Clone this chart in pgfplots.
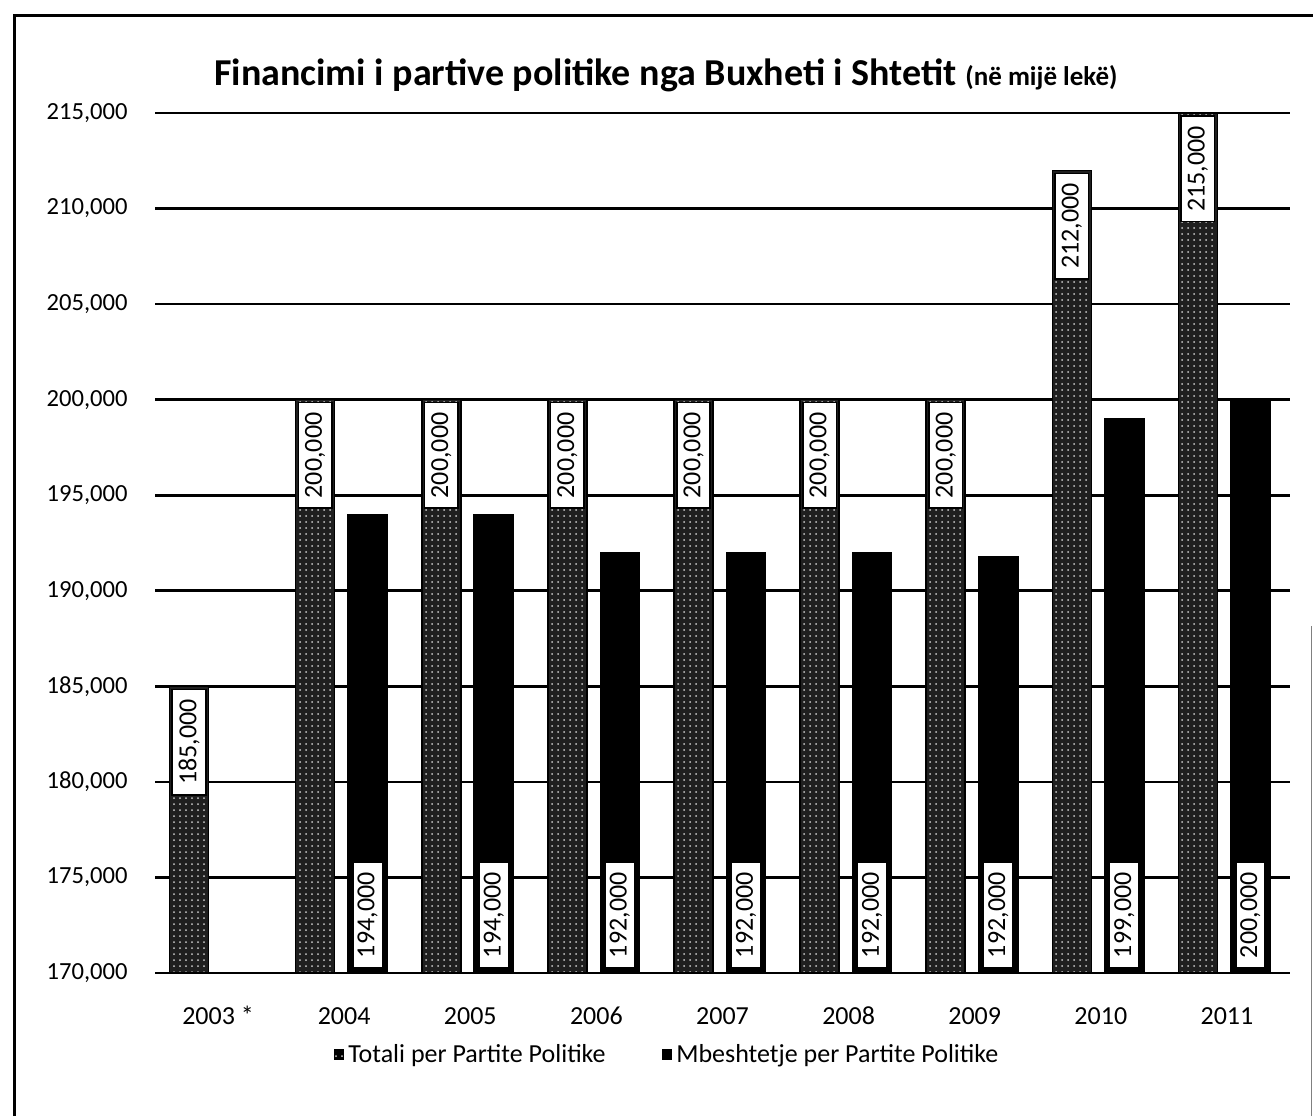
\documentclass[border=0pt]{standalone}
\usepackage{fontspec}
\setmainfont{Carlito}
\usepackage{pgfplots}
\usetikzlibrary{patterns}
\pgfplotsset{compat=1.18}
\begin{document}
\begin{tikzpicture}
\useasboundingbox (0,0) rectangle (656.5pt,558pt);
\draw[line width=1.5pt] (7pt,0) -- (7pt,550pt) -- (656.5pt,550pt);
\draw[gray, line width=0.6pt] (655.8pt,0) -- (655.8pt,245pt);
\node[anchor=base, inner sep=0pt] at (333pt,515pt)
  {\fontsize{19}{23}\selectfont\bfseries Financimi i partive politike nga Buxheti i Shtetit \fontsize{13.5}{15}\selectfont(në mijë lekë)};
\begin{axis}[
  at={(77.5pt,71.5pt)}, anchor=south west,
  scale only axis, width=567.5pt, height=430pt,
  xmin=-0.5, xmax=8.5, ymin=170000, ymax=215000,
  ytick={170000,175000,180000,185000,190000,195000,200000,205000,210000,215000},
  yticklabels={{170,000},{175,000},{180,000},{185,000},{190,000},{195,000},{200,000},{205,000},{210,000},{215,000}},
  xtick={0,...,8},
  xticklabels={2003 *,2004,2005,2006,2007,2008,2009,2010,2011},
  axis line style={draw=none},
  tick style={draw=none},
  ymajorgrids,
  major grid style={black, line width=1.3pt},
  scaled y ticks=false,
  yticklabel style={font=\fontsize{12.3}{14}\selectfont, anchor=east, inner sep=0pt, xshift=-13.5pt},
  xticklabel style={font=\fontsize{13}{15}\selectfont, anchor=north, inner sep=0pt, yshift=-17pt,
    text height=8.6pt, text depth=0pt},
  legend style={at={(0.452,-0.095)}, anchor=center, draw=none, fill=none,
    legend columns=2, font=\fontsize{13}{15}\selectfont,
    /tikz/every even column/.append style={column sep=26pt}},
  clip=false,
]
\addplot[ybar, bar width=19.5pt, bar shift=-14.5pt, fill=black!88, draw=black, line width=0.8pt,
  postaction={pattern=dots, pattern color=white!80!black},
  nodes near coords, point meta=explicit symbolic,
  every node near coord/.style={xshift=-14.5pt, rotate=90, anchor=east, fill=white, draw=black, line width=0.8pt,
    font=\fontsize{13}{15}\selectfont, inner xsep=5pt, inner ysep=3.3pt, outer sep=1.5pt, text=black},
  legend image code/.code={\fill[black] (0pt,-2.3pt) rectangle (4.5pt,2.3pt);}]
  coordinates {(0,185000)[185{,}000] (1,200000)[200{,}000] (2,200000)[200{,}000] (3,200000)[200{,}000]
    (4,200000)[200{,}000] (5,200000)[200{,}000] (6,200000)[200{,}000] (7,212000)[212{,}000] (8,215000)[215{,}000]};
\addlegendentry{Totali per Partite Politike}
\addplot[ybar, bar width=19.5pt, bar shift=11.75pt, fill=black, draw=black, line width=0.8pt,
  legend image code/.code={\fill[black] (0pt,-2.3pt) rectangle (4.5pt,2.3pt);}]
  coordinates {(1,194000) (2,194000) (3,192000) (4,192000) (5,192000) (6,191800) (7,199000) (8,200000)};
\addlegendentry{Mbeshtetje per Partite Politike}
\addplot[ybar, bar width=19.5pt, bar shift=11.75pt, draw=none, fill=none, forget plot,
  nodes near coords, point meta=explicit symbolic,
  every node near coord/.style={xshift=11.75pt, rotate=90, anchor=west, fill=white, draw=black, line width=0.8pt,
    font=\fontsize{13}{15}\selectfont, inner xsep=5pt, inner ysep=2.3pt, outer sep=2.5pt, text=black}]
  coordinates {(1,170000)[194{,}000] (2,170000)[194{,}000] (3,170000)[192{,}000] (4,170000)[192{,}000]
    (5,170000)[192{,}000] (6,170000)[192{,}000] (7,170000)[199{,}000] (8,170000)[200{,}000]};
\end{axis}
\end{tikzpicture}
\end{document}
